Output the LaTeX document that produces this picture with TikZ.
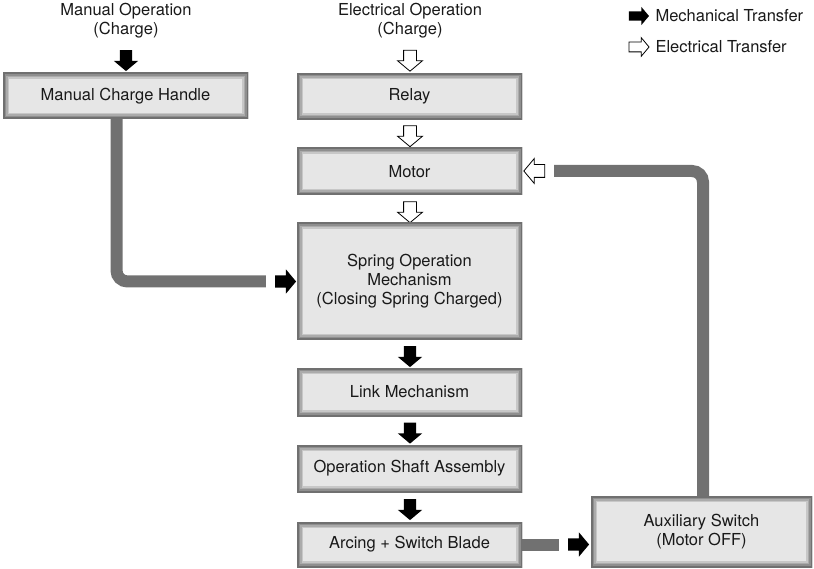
\documentclass[tikz,border=0pt]{standalone}
\usepackage{fontspec}
\setmainfont{TeX Gyre Heros}
\usepackage{tikz}
\usetikzlibrary{shapes.arrows}
\definecolor{boxfill}{HTML}{E6E6E6}
\definecolor{linegray}{HTML}{717171}
\tikzset{
block/.style={rectangle, fill=boxfill, minimum width=225pt, inner sep=0pt, align=center,
  path picture={\foreach \lw/\tone in {12/22,9/33,6/44,3/56}{
    \draw[line width=\lw pt, black!\tone] (path picture bounding box.south west) rectangle (path picture bounding box.north east);}}},
mech/.style={single arrow, fill=black, draw=none, minimum height=21pt, minimum width=24pt,
  single arrow head extend=6pt, single arrow tip angle=100, inner sep=6pt},
elec/.style={mech, fill=white, draw=black, line width=0.8pt},
feed/.style={draw=linegray, line width=12pt, rounded corners=11pt},
lbl/.style={align=center}
}

\begin{document}
\begin{tikzpicture}[x=1pt,y=-1pt, every node/.style={font=\fontsize{16.5}{19}\selectfont, text=black!90}]
\useasboundingbox (0,0) rectangle (814,569);

\node[lbl] (manop) at (126,21) {Manual Operation\\(Charge)};
\node[mech, shape border rotate=270] (inH) at (126,58) {};
\node[block, minimum width=245pt, minimum height=46pt] (handle) at (125.5,96) {Manual Charge Handle};

\node[lbl] (elop) at (410,21) {Electrical Operation\\(Charge)};
\node[elec, shape border rotate=270] (inR) at (410,58) {};
\node[block, minimum height=46pt] (relay) at (409.5,96.5) {Relay};
\node[elec, shape border rotate=270] (inMo) at (410,133.5) {};
\node[block, minimum height=47pt] (motor) at (409.5,171.5) {Motor};
\node[elec, shape border rotate=270] (inSp) at (410,209.5) {};
\node[block, minimum height=117pt] (spring) at (409.5,281.5) {Spring Operation\\Mechanism\\(Closing Spring Charged)};
\node[mech, shape border rotate=270] (inL) at (410,354) {};
\node[block, minimum height=48pt] (link) at (409.5,392) {Link Mechanism};
\node[mech, shape border rotate=270] (inO) at (410,430.5) {};
\node[block, minimum height=47pt] (shaft) at (409.5,468.5) {Operation Shaft Assembly};
\node[mech, shape border rotate=270] (inB) at (410,507) {};
\node[block, minimum height=45pt] (arc) at (409.5,544.5) {Arcing + Switch Blade};
\node[block, minimum width=221pt, minimum height=71pt] (aux) at (701.5,531.5) {Auxiliary Switch\\(Motor OFF)};

\node[mech] (inS) at (283,281.5) {};
\node[mech] (inA) at (576,544.5) {};
\node[elec, shape border rotate=180] (inM) at (537,171) {};

\draw[feed] ([xshift=-9pt]handle.south) |- ([xshift=-9pt]inS.tail);
\draw[feed] ([xshift=1.5pt]aux.north) |- ([xshift=9pt]inM.tail);
\draw[feed] (arc.east) -- ([xshift=-9pt]inA.tail);

\node[mech, minimum height=20pt, minimum width=18pt, single arrow head extend=4.5pt, inner sep=4.5pt] (keyM) at (637,16) {};
\node[anchor=west] (txtM) at (652,16) {Mechanical Transfer};
\node[elec, minimum height=20pt, minimum width=18pt, single arrow head extend=4.5pt, inner sep=4.5pt] (keyE) at (637,47) {};
\node[anchor=west] (txtE) at (652,47) {Electrical Transfer};
\end{tikzpicture}
\end{document}
